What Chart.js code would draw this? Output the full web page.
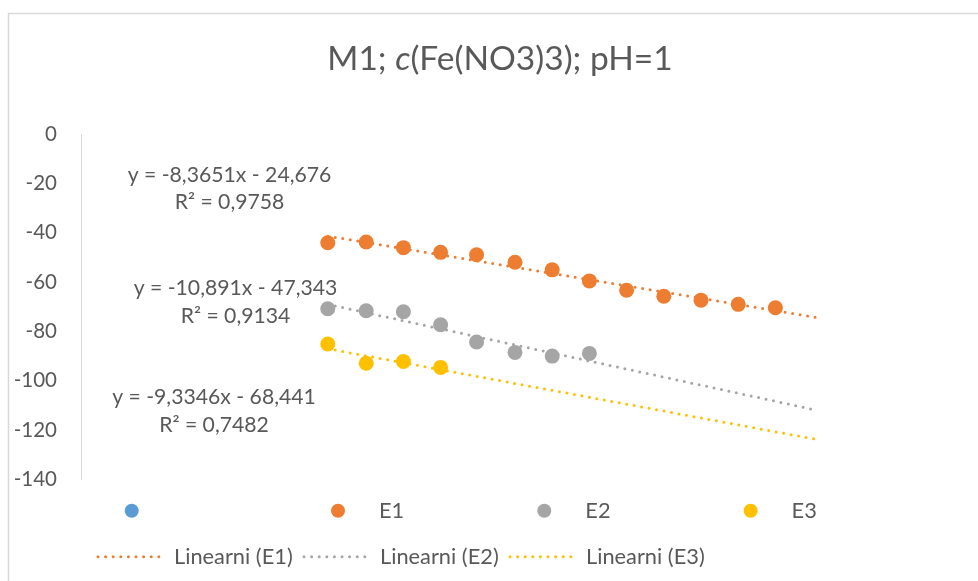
<!DOCTYPE html>
<html>
<head>
<meta charset="utf-8">
<script src="https://cdn.jsdelivr.net/npm/chart.js@4.4.1/dist/chart.umd.min.js"></script>
<style>
  html, body { margin: 0; padding: 0; background: #fff; }
</style>
</head>
<body>
<canvas id="chart" width="978" height="581"></canvas>
<script>
// ---- data ----
const seriesNames = ['', 'E1', 'E2', 'E3'];
const e1X = [1.99, 2.30, 2.60, 2.90, 3.19, 3.50, 3.80, 4.10, 4.40, 4.70, 5.00, 5.30, 5.60];
const e1Y = [-44.0, -43.7, -46.0, -47.9, -48.9, -51.9, -55.0, -59.5, -63.3, -65.7, -67.3, -69.0, -70.4];
const e2X = [1.99, 2.30, 2.60, 2.90, 3.19, 3.50, 3.80, 4.10];
const e2Y = [-70.8, -71.6, -72.0, -77.3, -84.3, -88.5, -90.0, -88.9];
const e3X = [1.99, 2.30, 2.60, 2.90];
const e3Y = [-85.1, -92.9, -92.2, -94.6];

// trendlines as printed on the chart
const trendSlope = [-8.3651, -10.891, -9.3346];
const trendIntercept = [-24.676, -47.343, -68.441];
const trendR2 = ['0,9758', '0,9134', '0,7482'];
const trendFrom = 1.99;
const trendTo = 5.92;

const yMin = -140, yMax = 0, yStep = 20;

const colors = ['#5b9bd5', '#ed7d31', '#a5a5a5', '#ffc000'];
const textColor = '#595959';
const FONT = 'Lato, "Open Sans", sans-serif';

/* ------------------------------
   Helpers
------------------------------ */
const toPoints = (xs, ys) => xs.map((x, i) => ({ x, y: ys[i] }));

const fmt = v => String(Math.abs(v)).replace('.', ',');

function equationText(i) {
  const m = trendSlope[i], b = trendIntercept[i];
  return 'y = ' + (m < 0 ? '-' : '') + fmt(m) + 'x ' + (b < 0 ? '- ' : '+ ') + fmt(b);
}

function trendDataset(i) {
  const c = colors[i + 1];
  return {
    label: 'Linearni (' + seriesNames[i + 1] + ')',
    data: [trendFrom, trendTo].map(x => ({ x, y: trendSlope[i] * x + trendIntercept[i] })),
    showLine: true,
    borderColor: c,
    borderWidth: 3,
    borderDash: [0, 7.6],
    borderCapStyle: 'round',
    pointRadius: 0
  };
}

function pointDataset(name, pts, c) {
  return {
    label: name,
    data: pts,
    backgroundColor: c,
    borderColor: c,
    pointRadius: 7.5,
    pointBorderWidth: 0,
    showLine: false
  };
}

/* ------------------------------
   Plugins: frame, title, labels, legend
------------------------------ */
const framePlugin = {
  id: 'frame',
  beforeDraw(chart) {
    const ctx = chart.ctx;
    ctx.save();
    ctx.fillStyle = '#fff';
    ctx.fillRect(0, 0, chart.width, chart.height);
    ctx.strokeStyle = '#d9d9d9';
    ctx.lineWidth = 1.5;
    ctx.strokeRect(8.5, 13.5, chart.width + 10, chart.height + 10);
    ctx.restore();
  }
};

const textPlugin = {
  id: 'texts',
  afterDraw(chart) {
    const ctx = chart.ctx;
    ctx.save();
    ctx.fillStyle = textColor;

    // -------- title, with italic c --------
    const parts = [
      ['M1; ', 'normal'],
      ['c', 'italic'],
      ['(Fe(NO3)3); pH=1', 'normal']
    ];
    const size = 33.5;
    let total = 0;
    parts.forEach(p => {
      ctx.font = p[1] + ' ' + size + 'px ' + FONT;
      total += ctx.measureText(p[0]).width;
    });
    let x = 500 - total / 2;
    ctx.textBaseline = 'alphabetic';
    ctx.textAlign = 'left';
    parts.forEach(p => {
      ctx.font = p[1] + ' ' + size + 'px ' + FONT;
      ctx.fillText(p[0], x, 70);
      x += ctx.measureText(p[0]).width;
    });

    // -------- trendline equations --------
    const spots = [[229.5, 175], [235.5, 288.5], [214, 397.5]];
    ctx.font = '21.2px ' + FONT;
    ctx.textAlign = 'center';
    ctx.textBaseline = 'middle';
    spots.forEach((s, i) => {
      ctx.fillText(equationText(i), s[0], s[1]);
      ctx.fillText('R² = ' + trendR2[i], s[0], s[1] + 27.5);
    });

    // -------- legend --------
    ctx.font = '21.8px ' + FONT;
    ctx.textAlign = 'left';
    seriesNames.forEach((name, i) => {
      const mx = 131.7 + 206.3 * i;
      ctx.fillStyle = colors[i];
      ctx.beginPath();
      ctx.arc(mx, 510.7, 7, 0, Math.PI * 2);
      ctx.fill();
      ctx.fillStyle = textColor;
      ctx.fillText(name, mx + 41, 511);
    });
    trendSlope.forEach((m, i) => {
      const cx = 97 + 206 * i;
      ctx.strokeStyle = colors[i + 1];
      ctx.lineWidth = 3;
      ctx.lineCap = 'round';
      ctx.setLineDash([0, 7.6]);
      ctx.beginPath();
      ctx.moveTo(cx + 1, 556.7);
      ctx.lineTo(cx + 66, 556.7);
      ctx.stroke();
      ctx.setLineDash([]);
      ctx.fillStyle = textColor;
      ctx.fillText('Linearni (' + seriesNames[i + 1] + ')', cx + 77, 557);
    });
    ctx.restore();
  }
};

/* ------------------------------
   Chart
------------------------------ */
new Chart(document.getElementById('chart'), {
  type: 'scatter',
  data: {
    datasets: [
      trendDataset(0),
      trendDataset(1),
      trendDataset(2),
      pointDataset(seriesNames[0], [], colors[0]),
      pointDataset(seriesNames[1], toPoints(e1X, e1Y), colors[1]),
      pointDataset(seriesNames[2], toPoints(e2X, e2Y), colors[2]),
      pointDataset(seriesNames[3], toPoints(e3X, e3Y), colors[3])
    ]
  },
  options: {
    responsive: false,
    animation: false,
    clip: false,
    layout: { padding: { left: 0, right: 29, top: 134.3, bottom: 101.7 } },
    plugins: {
      legend: { display: false },
      tooltip: { enabled: false },
      title: { display: false }
    },
    scales: {
      x: { type: 'linear', min: 0, max: 7, display: false },
      y: {
        min: yMin,
        max: yMax,
        ticks: {
          stepSize: yStep,
          padding: 24,
          color: textColor,
          font: { family: FONT, size: 20.5 }
        },
        grid: { display: true, color: 'transparent', drawTicks: false },
        border: { display: true, color: '#d9d9d9', width: 1 },
        afterFit(scale) { scale.width = 81; }
      }
    }
  },
  plugins: [framePlugin, textPlugin]
});
</script>
</body>
</html>
